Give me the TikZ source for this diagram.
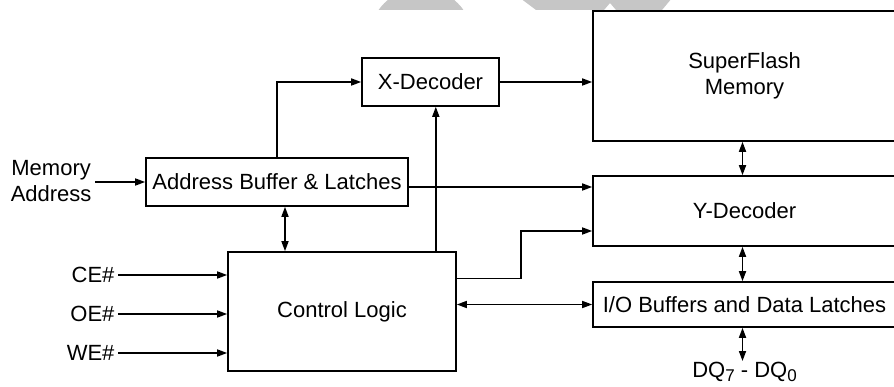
\documentclass[tikz,border=0pt]{standalone}
\usepackage{fontspec}
\setmainfont{Liberation Sans}
\usetikzlibrary{arrows.meta,positioning,calc}
\newcommand{\sub}[1]{\raisebox{-4pt}{\fontsize{17}{17}\selectfont #1}}

\begin{document}
\begin{tikzpicture}[x=1pt,y=-1pt,
  every node/.style={font=\fontsize{22}{26}\selectfont},
  blk/.style={draw,line width=1.6pt,inner sep=0pt},
  sig/.style={line width=1.6pt,-{Triangle[length=10pt,width=7pt]}},
  bus/.style={line width=1.6pt,{Triangle[length=10pt,width=7pt]}-{Triangle[length=10pt,width=7pt]}}]
\useasboundingbox (0,0) rectangle (894,387);
\clip (0,0) rectangle (894,387);

% watermark remnants
\begin{scope}
\clip (0,0) rectangle (894,10);
\fill[gray!45] (421,40) circle[radius=52];
\fill[gray!45] (520,-2) -- (672,-2) -- (662,10) -- (616,10) -- (610,3) -- (604,10) -- (536,10) -- cycle;
\end{scope}

% blocks
\node[blk,minimum width=137,minimum height=48] (xdec) at (430.5,82) {X-Decoder};
\node[blk,minimum width=303,minimum height=130,align=center] (flash) at (744.5,76) {SuperFlash\\Memory};
\node[blk,minimum width=262,minimum height=48] (addr) at (277,182) {Address Buffer \& Latches};
\node[blk,minimum width=303,minimum height=70] (ydec) at (744.5,211) {Y-Decoder};
\node[blk,minimum width=228,minimum height=119] (ctrl) at (342,311.5) {Control Logic};
\node[blk,minimum width=303,minimum height=45] (io) at (744.5,304.5) {I/O Buffers and Data Latches};

% pins
\node[align=center,anchor=east] (mem) at (95,181) {Memory\\Address};
\node[anchor=east] (ce) at (118,275) {CE\#};
\node[anchor=east] (oe) at (118,314) {OE\#};
\node[anchor=east] (we) at (118,353) {WE\#};
\node[anchor=north,inner sep=1pt] (dq) at (744.5,361) {DQ\sub{7} - DQ\sub{0}};

% connections
\draw[sig] (mem.east |- addr.west) -- (addr.west);
\draw[sig] (ce.east) -- (ce.east -| ctrl.west);
\draw[sig] (oe.east) -- (oe.east -| ctrl.west);
\draw[sig] (we.east) -- (we.east -| ctrl.west);
\draw[sig] (addr.north) |- (xdec.west);
\draw[sig] ([xshift=-21pt]ctrl.north east) -- ([xshift=-21pt]ctrl.north east |- xdec.south);
\draw[sig] (xdec.east) -- (xdec.east -| flash.west);
\draw[sig] ([yshift=-5pt]addr.east) -- ([yshift=-5pt]addr.east -| ydec.west);
\draw[bus] ([xshift=8pt]addr.south) -- ([xshift=8pt]addr.south |- ctrl.north);
\draw[sig] ([yshift=33pt]ctrl.east) -- ++(64,0) |- ([yshift=-20pt]ydec.west);
\draw[bus] (io.west -| ctrl.east) -- (io.west);
\draw[bus] ([xshift=-2pt]flash.south) -- ([xshift=-2pt]ydec.north);
\draw[bus] ([xshift=-2pt]ydec.south) -- ([xshift=-2pt]io.north);
\draw[bus] ([xshift=-2pt]io.south) -- ([xshift=-2pt]dq.north);
\end{tikzpicture}
\end{document}
